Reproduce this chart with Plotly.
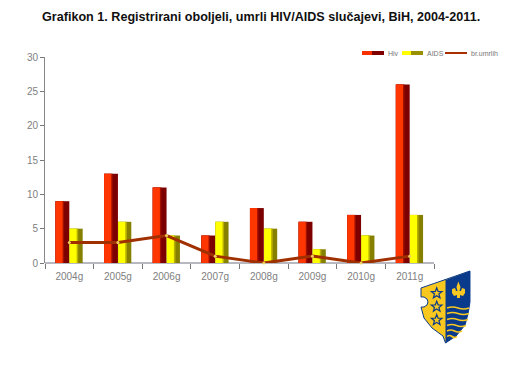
import math
import plotly.graph_objects as go

categories = ["2004g", "2005g", "2006g", "2007g", "2008g", "2009g", "2010g", "2011g"]
hiv = [9, 13, 11, 4, 8, 6, 7, 26]
aids = [5, 6, 4, 6, 5, 2, 4, 7]
deaths = [3, 3, 4, 1, 0, 1, 0, 1]
title = "Grafikon 1. Registrirani oboljeli, umrli HIV/AIDS slučajevi, BiH, 2004-2011."
legend_names = ["Hiv", "AIDS", "br.umrlih"]

# shades are painted dark-to-bright, each narrower from the right, so no seams show
HIV_SHADES = [("#7c0000", 1.0), ("#a01000", 0.62), ("#ff3600", 0.52)]
AIDS_SHADES = [("#858000", 1.0), ("#b8b000", 0.66), ("#ffff00", 0.54)]

L, R, T, B = 45, 434, 57, 263


def px(x):
    return (x - L) / (R - L)


def py(y):
    return (B - y) / (B - T)


fig = go.Figure()


def add_bar(values, shades, start, width):
    for c, frac in shades:
        fig.add_trace(go.Bar(x=categories, y=values, offset=start, width=width * frac,
                             marker=dict(color=c, line=dict(width=0)), showlegend=False, hoverinfo="skip"))


add_bar(hiv, HIV_SHADES, -0.285, 0.285)
add_bar(aids, AIDS_SHADES, 0.005, 0.27)
fig.add_trace(go.Scatter(x=categories, y=deaths, mode="lines+markers", cliponaxis=False,
                         line=dict(color="#a03000", width=3),
                         marker=dict(size=3, color="#f0d060"), showlegend=False, hoverinfo="skip"))

shapes = []


def rect(x0, y0, x1, y1, color):
    shapes.append(dict(type="rect", xref="paper", yref="paper", x0=px(x0), x1=px(x1), y0=py(y0), y1=py(y1),
                       fillcolor=color, line=dict(width=0), layer="above"))


def path(points, fill, line_color=None, line_width=0):
    d = "M" + " L".join(f"{px(x):.4f},{py(y):.4f}" for x, y in points) + " Z"
    shapes.append(dict(type="path", xref="paper", yref="paper", path=d, fillcolor=fill,
                       line=dict(color=line_color or fill, width=line_width), layer="above"))


# legend swatches
rect(362, 51, 372, 55, "#f83000")
rect(372, 51, 384, 55, "#800000")
rect(402, 51, 411, 55, "#ffff00")
rect(411, 51, 423, 55, "#989000")
rect(445, 52, 467, 54, "#a83000")

# coat of arms
NAVY = "#0a3a8c"
GOLD = "#f8c820"
shield = [(421, 288), (470, 271), (470, 302), (468, 314), (465, 325), (456, 336), (445.5, 343),
          (443, 336), (432, 328), (424, 318), (421, 307), (424, 307), (427, 305), (428, 302),
          (427, 299), (424, 297), (421, 297)]
path(shield, GOLD, NAVY, 1)
path([(445.5, 280), (470, 271), (470, 302), (468, 314), (465, 325), (456, 336), (445.5, 343)], NAVY)
for y in (293.3, 306.7, 320):
    cx = 436.7
    r = 5.6
    pts = []
    for k in range(10):
        a = -math.pi / 2 + k * math.pi / 5
        rr = r if k % 2 == 0 else r * 0.42
        pts.append((cx + rr * math.cos(a), y + rr * math.sin(a)))
    path(pts, GOLD, NAVY, 1.2)
# fleur-de-lis
path([(458.3, 281.5), (460.5, 287), (459.5, 291), (461, 291), (462, 288), (465, 289), (465, 293), (463, 296),
      (460, 295), (460, 298), (457, 298), (457, 295), (454, 296), (452, 293), (452, 289), (455, 288),
      (456, 291), (457.5, 291), (456.5, 287)], GOLD)
# waves
for y, x0, x1 in ((308, 447, 469), (313.5, 447, 469), (319.5, 447, 468), (325.5, 447, 466), (331, 447, 462), (336.5, 447, 457)):
    m = (x0 + x1) / 2
    shapes.append(dict(type="path", xref="paper", yref="paper", layer="above",
                       path=f"M{px(x0):.4f},{py(y):.4f} Q{px((x0 + m) / 2):.4f},{py(y - 2):.4f} {px(m):.4f},{py(y):.4f} "
                            f"T{px(x1):.4f},{py(y):.4f}",
                       line=dict(color=GOLD, width=1.6)))

annotations = [dict(text=f"<b>{title}</b>", xref="paper", yref="paper", x=px(261), y=py(17), showarrow=False,
                    font=dict(family="Liberation Sans", size=12.6, color="#101010"), xanchor="center", yanchor="middle")]
for name, x in zip(legend_names, (386, 425, 469)):
    annotations.append(dict(text=name, xref="paper", yref="paper", x=px(x), y=py(53), showarrow=False,
                            font=dict(family="Liberation Sans", size=7, color="#777777"),
                            xanchor="left", yanchor="middle"))

fig.update_layout(
    width=512, height=384, autosize=False, barmode="overlay",
    margin=dict(l=L, r=512 - R, t=T, b=384 - B, pad=0),
    plot_bgcolor="white", paper_bgcolor="white", showlegend=False,
    shapes=shapes, annotations=annotations,
    font=dict(family="Liberation Sans", color="#808080", size=10),
    xaxis=dict(type="category", range=[-0.5, 7.5], tickson="boundaries", ticks="outside", ticklen=5,
               tickcolor="#777777", tickwidth=1, showgrid=False, zeroline=False, showline=False,
               ticklabelstandoff=6, tickfont=dict(size=10, color="#808080")),
    yaxis=dict(range=[0, 30], dtick=5, ticks="outside", ticklen=4, tickcolor="#777777", showgrid=False,
               zeroline=True, zerolinecolor="#b8b8c0", zerolinewidth=2, showline=True, linecolor="#888888",
               linewidth=1, ticklabelstandoff=0, tickfont=dict(size=10, color="#808080")),
)

fig.write_html("out.html", config={"displayModeBar": False},
               post_script="document.body.style.margin='0';")
